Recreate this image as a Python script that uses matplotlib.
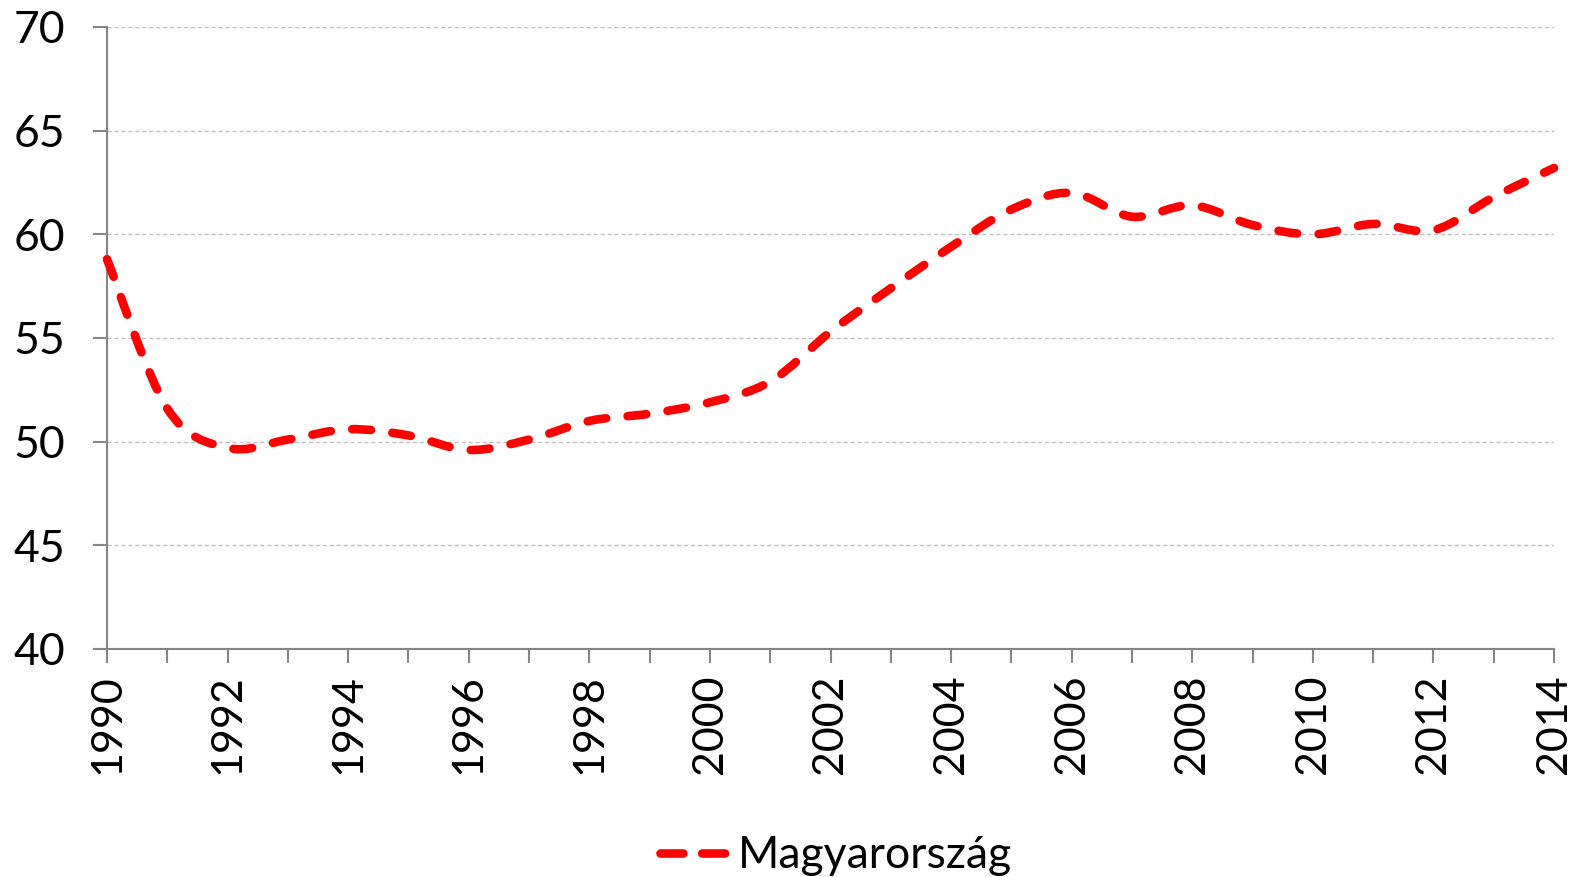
import matplotlib
matplotlib.use("Agg")
import matplotlib.pyplot as plt
from matplotlib.path import Path
from matplotlib.patches import PathPatch
from matplotlib.lines import Line2D
import numpy as np

plt.rcParams["lines.scale_dashes"] = False

years = list(range(1990, 2015))
values = [58.8, 51.6, 49.7, 50.1, 50.6, 50.3, 49.6, 50.1, 51.0, 51.35,
          51.9, 52.9, 55.3, 57.4, 59.4, 61.2, 62.0, 60.85, 61.4, 60.45,
          60.0, 60.5, 60.2, 61.8, 63.2]
series_name = "Magyarország"
yticks = [40, 45, 50, 55, 60, 65, 70]
xticks = list(range(1990, 2015, 2))

W, H = 1582, 877
fig = plt.figure(figsize=(W / 100, H / 100), dpi=100)
ax = fig.add_axes([107 / W, 1 - 649 / H, (1554 - 107) / W, (649 - 27) / H])

RED = "#ff0000"
GRAY = "#868686"
LW = 6.2
DASH = (0, (13.5, 15.5))
FONT = ["Lato", "DejaVu Sans"]

# Excel-like smoothed line (cubic Bezier through the data points)
x = np.array(years, dtype=float)
y = np.array(values, dtype=float)
n = len(x)
verts = [(x[0], y[0])]
codes = [Path.MOVETO]
for i in range(n - 1):
    p0 = np.array([x[max(i - 1, 0)], y[max(i - 1, 0)]])
    p1 = np.array([x[i], y[i]])
    p2 = np.array([x[i + 1], y[i + 1]])
    p3 = np.array([x[min(i + 2, n - 1)], y[min(i + 2, n - 1)]])
    c1 = p1 + (p2 - p0) / 6.0
    c2 = p2 - (p3 - p1) / 6.0
    verts += [tuple(c1), tuple(c2), tuple(p2)]
    codes += [Path.CURVE4] * 3
patch = PathPatch(Path(verts, codes), facecolor="none", edgecolor=RED,
                  linewidth=LW, linestyle=DASH, capstyle="round",
                  joinstyle="round", transform=ax.transData, clip_on=False,
                  zorder=3)
ax.add_patch(patch)

ax.set_xlim(1990, 2014)
ax.set_ylim(40, 70)
ax.set_yticks(yticks)
ax.set_xticks(years)
ax.set_xticklabels([str(yr) if yr in xticks else "" for yr in years])

for s in ["top", "right"]:
    ax.spines[s].set_visible(False)
for s in ["left", "bottom"]:
    ax.spines[s].set_color(GRAY)
    ax.spines[s].set_linewidth(1.5)

ax.grid(axis="y", color="#c0c0c0", linestyle=(0, (3, 2)), linewidth=1.0, zorder=0)
ax.set_axisbelow(True)

ax.tick_params(axis="y", direction="out", length=10, width=1.5, color=GRAY,
               labelsize=32, pad=20)
ax.tick_params(axis="x", direction="out", length=10, width=1.5, color=GRAY,
               labelsize=31, pad=8, labelrotation=90)
for lab in ax.get_yticklabels() + ax.get_xticklabels():
    lab.set_fontfamily(FONT)

handle = Line2D([], [], color=RED, linewidth=LW, linestyle=(0, (16.5, 13.5)),
                dash_capstyle="round")
leg = fig.legend([handle], [series_name], loc="center",
                 bbox_to_anchor=(836 / W, 1 - 856 / H), frameon=False,
                 prop={"family": FONT, "size": 32},
                 handlelength=1.47, handletextpad=0.3)

fig.savefig("out.png", dpi=100, facecolor="white")
